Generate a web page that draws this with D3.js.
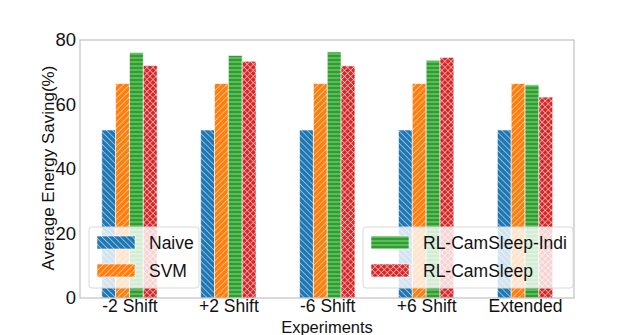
<!DOCTYPE html>
<html>
<head>
<meta charset="utf-8">
<script src="https://cdn.jsdelivr.net/npm/d3@7"></script>
<style>
  body { margin: 0; background: #fff; }
  text { font-family: "Liberation Sans", Arial, sans-serif; fill: #111; }
</style>
</head>
<body>
<div id="chart"></div>
<script>
// Data
const experiments = ["-2 Shift", "+2 Shift", "-6 Shift", "+6 Shift", "Extended"];
const methods = ["Naive", "SVM", "RL-CamSleep-Indi", "RL-CamSleep"];
const naive = [52.1, 52.1, 52.1, 52.1, 52.1];
const svm = [66.5, 66.5, 66.5, 66.5, 66.5];
const indi = [76.1, 75.2, 76.3, 73.7, 66.1];
const camSleep = [72.1, 73.4, 72.0, 74.6, 62.3];
const yTicks = [0, 20, 40, 60, 80];

const series = [naive, svm, indi, camSleep];
const colors = ["#1f77b4", "#ff7f0e", "#2ca02c", "#d62728"];
const hatches = ["back", "fwd", "horiz", "cross"];

const W = 638, H = 335;
const margin = { top: 40, right: 64, bottom: 37, left: 80 };
const width = W - margin.left - margin.right,
      height = H - margin.top - margin.bottom;

const root = d3.select("#chart").append("svg")
    .attr("width", W)
    .attr("height", H);

// Hatch patterns
const defs = root.append("defs");
function hatchPattern(id, color, kind) {
    const sp = kind === "horiz" ? 4 : 4.3;
    const p = defs.append("pattern")
        .attr("id", id)
        .attr("patternUnits", "userSpaceOnUse")
        .attr("width", sp)
        .attr("height", sp);
    if (kind === "back" || kind === "cross") p.attr("patternTransform", "rotate(45)");
    if (kind === "fwd") p.attr("patternTransform", "rotate(-45)");
    p.append("rect").attr("width", sp).attr("height", sp).attr("fill", color);
    p.append("line")
        .attr("x1", 0).attr("x2", sp).attr("y1", sp / 2).attr("y2", sp / 2)
        .attr("stroke", "rgba(255,255,255,0.55)").attr("stroke-width", 0.9);
    if (kind === "cross") {
        p.append("line")
            .attr("x1", sp / 2).attr("x2", sp / 2).attr("y1", 0).attr("y2", sp)
            .attr("stroke", "rgba(255,255,255,0.55)").attr("stroke-width", 0.9);
    }
}
methods.forEach((m, i) => hatchPattern("h" + i, colors[i], hatches[i]));

const svg = root.append("g")
    .attr("transform", `translate(${margin.left}, ${margin.top})`);

// Scales
const xScale = d3.scaleLinear().domain([-0.5, 4.495]).range([0, width]);
const yScale = d3.scaleLinear().domain([0, 80]).range([height, 0]);
const barW = 0.14;

// Bars
series.forEach((vals, si) => {
    svg.selectAll(".bar" + si)
        .data(vals)
        .enter()
        .append("rect")
        .attr("x", (d, i) => xScale(i + (si - 2) * barW))
        .attr("y", d => yScale(d))
        .attr("width", xScale(barW) - xScale(0))
        .attr("height", d => yScale(0) - yScale(d))
        .attr("fill", `url(#h${si})`)
        .attr("stroke", "rgba(255,255,255,0.6)")
        .attr("stroke-width", 1);
});

// Frame (light gray spines)
svg.append("rect")
    .attr("x", 0).attr("y", 0)
    .attr("width", width).attr("height", height)
    .attr("fill", "none")
    .attr("stroke", "#b5b5b5")
    .attr("stroke-width", 1);

// Axes (no tick marks)
const yAxis = d3.axisLeft(yScale).tickValues(yTicks).tickSize(0).tickPadding(4);
const gy = svg.append("g").call(yAxis);
gy.select(".domain").remove();
gy.selectAll("text").attr("font-size", "18.5px").attr("fill", "#111")
    .attr("font-family", "Liberation Sans, Arial, sans-serif");

const xAxis = d3.axisBottom(xScale).tickValues(d3.range(experiments.length))
    .tickFormat(i => experiments[i]).tickSize(0).tickPadding(2);
const gx = svg.append("g").attr("transform", `translate(0, ${height})`).call(xAxis);
gx.select(".domain").remove();
gx.selectAll("text").attr("font-size", "17.5px").attr("fill", "#111")
    .attr("font-family", "Liberation Sans, Arial, sans-serif");

// Axis labels
svg.append("text")
    .attr("x", width / 2)
    .attr("y", height + 35)
    .attr("text-anchor", "middle")
    .attr("font-size", "16.5px")
    .text("Experiments");

svg.append("text")
    .attr("transform", "rotate(-90)")
    .attr("x", -height / 2 + 1)
    .attr("y", -26)
    .attr("text-anchor", "middle")
    .attr("font-size", "17px")
    .text("Average Energy Saving(%)");

// Legends
function legend(x0, y0, w, items) {
    const g = svg.append("g").attr("transform", `translate(${x0}, ${y0})`);
    g.append("rect")
        .attr("width", w).attr("height", 61)
        .attr("rx", 3)
        .attr("fill", "rgba(255,255,255,0.8)")
        .attr("stroke", "#d8d8d8");
    items.forEach((si, k) => {
        g.append("rect")
            .attr("x", 8).attr("y", 9 + k * 28)
            .attr("width", 38).attr("height", 13)
            .attr("fill", `url(#h${si})`)
            .attr("stroke", "rgba(255,255,255,0.6)");
        g.append("text")
            .attr("x", 60).attr("y", 22 + k * 28)
            .attr("font-size", "17.5px")
            .text(methods[si]);
    });
}
legend(9, 187, 110, [0, 1]);
legend(283, 187, 210, [2, 3]);
</script>
</body>
</html>
